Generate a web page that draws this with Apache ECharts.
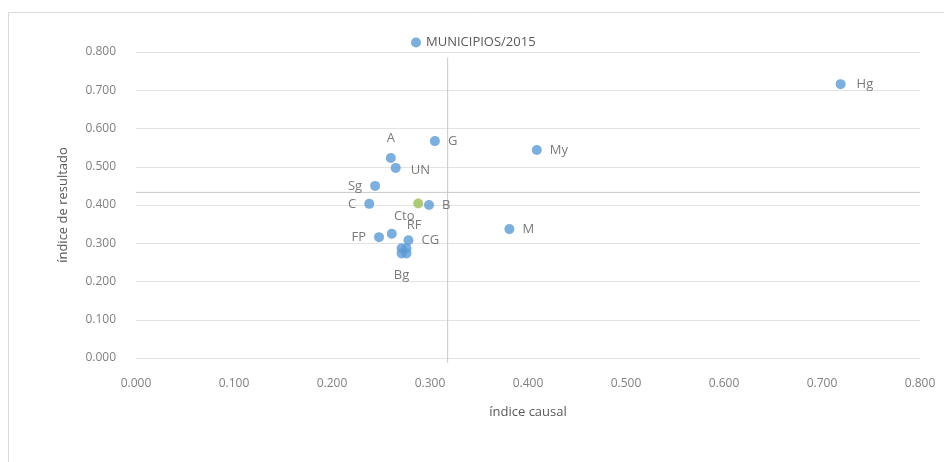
<!DOCTYPE html>
<html lang="pt">
<head>
<meta charset="UTF-8">
<title>MUNICIPIOS/2015</title>
<script src="https://cdn.jsdelivr.net/npm/echarts@6/dist/echarts.min.js"></script>
<style>
    html, body { margin: 0; padding: 0; background: #fff; }
    #chart { width: 944px; height: 462px; }
</style>
</head>
<body>
<div id="chart"></div>
<script>
    // dados
    const names  = ['Hg', 'G', 'My', 'A', 'UN', 'Sg', 'C', 'B', 'M', 'FP', 'RF', 'CG', '', '', '', 'Bg'];
    const causal = [0.719, 0.305, 0.409, 0.260, 0.265, 0.244, 0.238, 0.299, 0.381, 0.248, 0.261, 0.278, 0.271, 0.276, 0.276, 0.271];
    const result = [0.716, 0.567, 0.544, 0.523, 0.497, 0.450, 0.403, 0.400, 0.337, 0.316, 0.325, 0.308, 0.287, 0.287, 0.273, 0.273];

    // Cto (ponto verde)
    const ctoName = 'Cto';
    const ctoPoint = [0.288, 0.404];

    // linhas de média
    const meanCausal = 0.318;
    const meanResult = 0.433;

    const xTicks = ['0.000', '0.100', '0.200', '0.300', '0.400', '0.500', '0.600', '0.700', '0.800'];

    const labelPlace = {
        Hg: { position: 'right', distance: 11 },
        A:  { position: 'top', distance: 8 },
        Sg: { position: 'left' },
        C:  { position: 'left' },
        FP: { position: 'left' },
        RF: { position: 'right', offset: [2, -8] },
        UN: { position: 'right', distance: 10, offset: [0, 2] },
        Bg: { position: 'bottom', distance: 10 }
    };

    const txt = '#595959';
    const font = 'Open Sans';

    let chart = echarts.init(document.getElementById('chart'));

    let points = names.map((n, i) => {
        let p = labelPlace[n] || { position: 'right' };
        return {
            name: n,
            value: [causal[i], result[i]],
            label: Object.assign({ show: n !== '' }, p)
        };
    });

    let option = {
        animation: false,
        textStyle: { fontFamily: font },
        graphic: [{
            type: 'rect',
            shape: { x: 8.5, y: 12.5, width: 945, height: 460 },
            style: { fill: 'none', stroke: '#d9d9d9', lineWidth: 1 },
            silent: true
        }],
        legend: {
            data: ['MUNICIPIOS/2015'],
            left: 406,
            top: 31,
            itemWidth: 10,
            itemHeight: 10,
            itemGap: 4,
            textStyle: { color: txt, fontSize: 13, fontFamily: font }
        },
        grid: { left: 136, right: 24, top: 52, bottom: 104 },
        xAxis: {
            type: 'value',
            min: 0, max: 0.8, interval: 0.1,
            name: 'índice causal',
            nameLocation: 'middle',
            nameGap: 48,
            nameTextStyle: { color: txt, fontSize: 13 },
            axisLine: { show: false },
            axisTick: { show: false },
            axisLabel: {
                color: '#7f7f7f', fontSize: 12, margin: 20,
                formatter: (v) => xTicks[Math.round(v * 10)]
            },
            splitLine: { show: false }
        },
        yAxis: {
            type: 'value',
            min: 0, max: 0.8, interval: 0.1,
            name: 'índice de resultado',
            nameLocation: 'middle',
            nameGap: 66,
            nameTextStyle: { color: txt, fontSize: 13 },
            axisLine: { show: false },
            axisTick: { show: false },
            axisLabel: {
                color: '#7f7f7f', fontSize: 12, margin: 20,
                formatter: (v) => v.toFixed(3)
            },
            splitLine: { lineStyle: { color: '#e3e3e3', width: 1 } }
        },
        series: [
            {
                name: 'media',
                type: 'line',
                data: [[meanCausal, -0.013], [meanCausal, 0.785]],
                clip: false,
                symbol: 'none',
                lineStyle: { color: '#c8c8c8', width: 1 },
                silent: true,
                z: 1
            },
            {
                name: 'media2',
                type: 'line',
                data: [[0, meanResult], [0.8, meanResult]],
                symbol: 'none',
                lineStyle: { color: '#c8c8c8', width: 1 },
                silent: true,
                z: 1
            },
            {
                name: 'MUNICIPIOS/2015',
                type: 'scatter',
                symbolSize: 10,
                itemStyle: { color: '#5b9bd5' },
                label: {
                    formatter: '{b}',
                    color: txt,
                    fontSize: 13,
                    distance: 8
                },
                data: points,
                z: 3
            },
            {
                name: 'Cto',
                type: 'scatter',
                symbolSize: 10,
                itemStyle: { color: '#9bbb59' },
                label: {
                    show: true,
                    formatter: '{b}',
                    position: 'bottom',
                    offset: [-14, -4],
                    color: txt,
                    fontSize: 13
                },
                data: [{ name: ctoName, value: ctoPoint }],
                z: 2
            }
        ]
    };

    chart.setOption(option);
</script>
</body>
</html>
